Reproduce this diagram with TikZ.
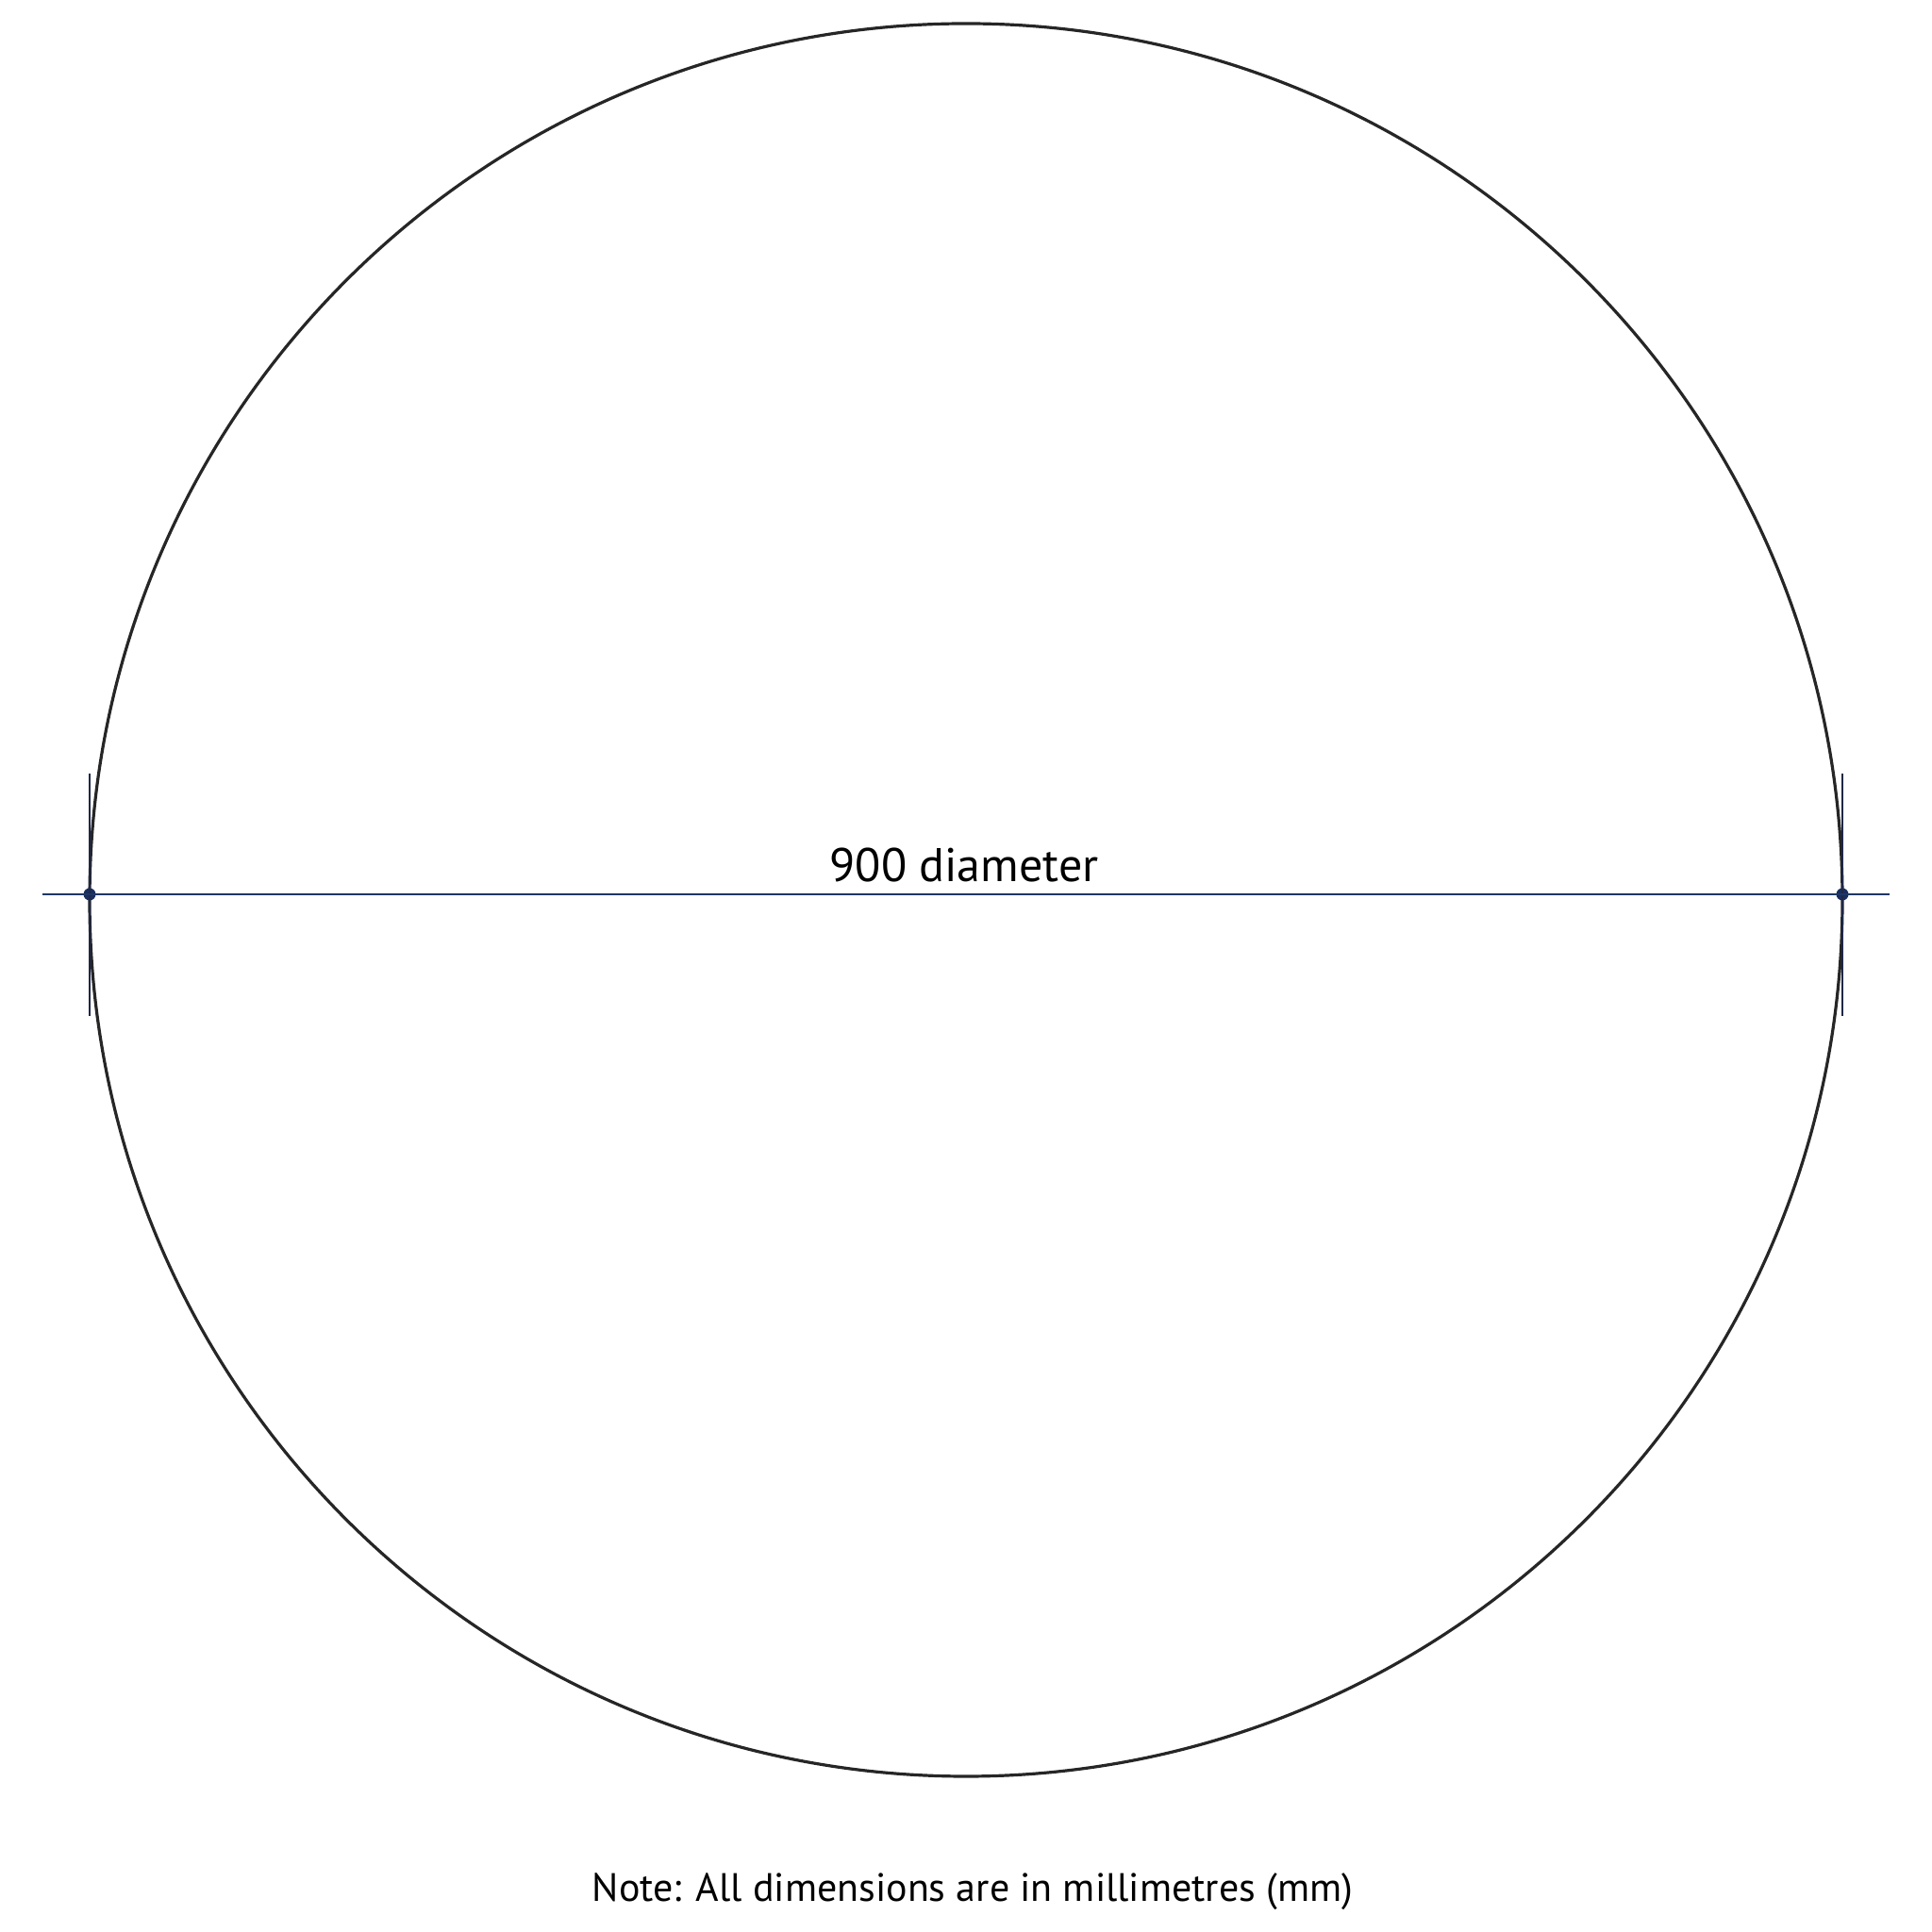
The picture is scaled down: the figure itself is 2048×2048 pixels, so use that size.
\documentclass[tikz,border=0pt]{standalone}
\usepackage{fontspec}
\setmainfont{PT Sans}
\begin{document}
\begin{tikzpicture}[x=1pt,y=1pt,
  outline/.style={line width=3.2pt, draw=black!85},
  dimline/.style={line width=1.8pt, draw={rgb,255:red,30;green,55;blue,100}},
  tickline/.style={line width=1.5pt, draw={rgb,255:red,30;green,40;blue,70}},
  enddot/.style={circle, fill={rgb,255:red,25;green,45;blue,95}, inner sep=0pt, minimum size=13pt},
  lbl/.style={anchor=base, inner sep=0pt}]
\useasboundingbox (0,0) rectangle (2048,2048);
\draw[outline] (1024,1094) circle (929);
\coordinate (lext) at (45,1100);
\coordinate (rext) at (2003,1100);
\node[enddot] (lp) at (95,1100) {};
\node[enddot] (rp) at (1953,1100) {};
\coordinate (lt1) at (95,1228);
\coordinate (lt2) at (95,971);
\coordinate (rt1) at (1953,1228);
\coordinate (rt2) at (1953,971);
\draw[tickline] (lt1) -- (lt2);
\draw[tickline] (rt1) -- (rt2);
\draw[dimline] (lext) -- (lp.center) -- (rp.center) -- (rext);
\node[lbl, font=\fontsize{50}{56}\selectfont] (dia) at (1022,1113) {900 diameter};
\node[lbl, font=\fontsize{42}{48}\selectfont] (note) at (1031,32) {Note: All dimensions are in millimetres (mm)};
\end{tikzpicture}
\end{document}
